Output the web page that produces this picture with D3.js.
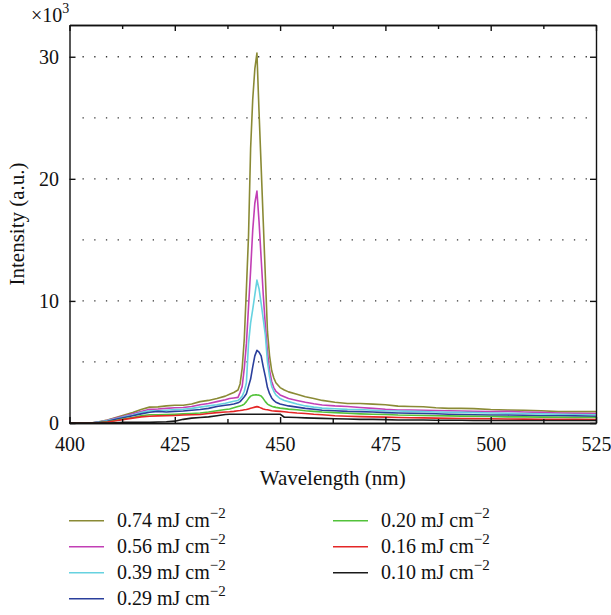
<!DOCTYPE html>
<html><head><meta charset="utf-8">
<script src="https://cdn.jsdelivr.net/npm/d3@7/dist/d3.min.js"></script>
<style>
html,body{margin:0;padding:0;background:#fff;}
text{font-family:"Liberation Serif","DejaVu Serif",serif;fill:#111;}
</style></head>
<body><svg id="c" width="611" height="615"></svg>
<script>
// ---- data (intensity in units of 10^3 a.u.) ----
const wavelength = [400,403,405,407,409,411,413,415,417,419,421,423,425,427,429,431,433,435,437,438,439,
  440,440.5,441,441.5,442,442.5,443,443.5,444,444.5,445,445.5,446,446.5,447,447.5,448,448.5,449,
  450,451,452,454,456,458,460,
  463,466,469,472,475,478,481,484,487,490,493,496,
  500,504,508,512,516,520,525];
const s074 = [0,0,0,0.1,0.25,0.45,0.65,0.85,1.1,1.3,1.32,1.4,1.45,1.45,1.55,1.75,1.85,2.0,2.2,2.35,2.5,
  2.7,3.2,4.5,6.9,11.0,15.3,22.5,26.5,29.0,30.3,25.5,21.0,16.5,12.0,7.5,5.5,4.3,3.7,3.3,
  2.9,2.7,2.55,2.35,2.15,2.0,1.85,
  1.7,1.6,1.6,1.55,1.5,1.38,1.35,1.33,1.25,1.2,1.2,1.18,
  1.1,1.07,1.05,1.0,0.93,0.93,0.93];
const s056 = [0,0,0,0.08,0.22,0.4,0.58,0.75,0.95,1.12,1.15,1.2,1.25,1.27,1.35,1.5,1.6,1.75,1.9,2.0,2.05,
  2.1,2.5,3.0,4.5,6.5,9.5,12.5,15.8,18.0,19.0,16.5,13.5,10.5,8.0,5.8,4.3,3.4,2.9,2.6,
  2.3,2.15,2.0,1.85,1.7,1.58,1.48,
  1.4,1.35,1.27,1.2,1.12,1.07,1.07,1.05,1.02,1.0,0.98,0.95,
  0.93,0.95,0.9,0.87,0.82,0.8,0.78];
const s039 = [0,0,0,0.07,0.2,0.35,0.52,0.65,0.85,1.0,1.0,1.05,1.1,1.12,1.2,1.3,1.4,1.5,1.62,1.7,1.78,
  1.85,2.0,2.2,2.6,3.3,6.5,8.2,9.3,10.5,11.7,11.0,9.8,8.5,7.2,5.0,3.8,3.0,2.6,2.3,
  2.0,1.85,1.75,1.55,1.4,1.3,1.22,
  1.17,1.12,1.1,1.05,1.0,0.98,0.95,0.93,0.9,0.88,0.87,0.85,
  0.82,0.8,0.78,0.75,0.72,0.7,0.68];
const s029 = [0,0,0,0.05,0.15,0.3,0.45,0.6,0.75,0.88,0.95,0.9,0.95,0.98,1.05,1.1,1.2,1.35,1.45,1.5,1.55,
  1.65,1.75,1.95,2.15,2.4,3.0,3.6,4.6,5.5,5.95,5.8,5.5,4.6,3.8,2.9,2.4,2.05,1.85,1.7,
  1.55,1.48,1.4,1.3,1.2,1.12,1.05,
  1.0,0.95,0.93,0.9,0.85,0.82,0.8,0.78,0.76,0.72,0.7,0.68,
  0.66,0.65,0.63,0.6,0.6,0.58,0.55];
const s020 = [0,0,0,0.03,0.1,0.2,0.35,0.45,0.6,0.68,0.68,0.7,0.72,0.75,0.78,0.82,0.9,1.0,1.1,1.15,1.25,
  1.35,1.4,1.45,1.55,1.75,2.0,2.2,2.28,2.3,2.3,2.28,2.22,2.0,1.75,1.55,1.45,1.38,1.32,1.28,
  1.22,1.18,1.14,1.08,1.0,0.95,0.9,
  0.85,0.8,0.75,0.72,0.7,0.65,0.63,0.62,0.6,0.58,0.56,0.55,
  0.53,0.5,0.5,0.48,0.47,0.45,0.45];
const s016 = [0,0,0,0.02,0.08,0.18,0.3,0.4,0.5,0.55,0.58,0.6,0.62,0.65,0.68,0.7,0.78,0.85,0.9,0.92,0.95,
  1.0,1.02,1.05,1.08,1.1,1.15,1.2,1.25,1.3,1.34,1.3,1.22,1.15,1.1,1.08,1.04,1.0,0.98,0.97,
  0.95,0.92,0.88,0.82,0.78,0.72,0.68,
  0.6,0.55,0.52,0.5,0.48,0.45,0.43,0.42,0.4,0.38,0.37,0.36,
  0.35,0.33,0.32,0.3,0.3,0.3,0.28];
const s010 = [0,0,0,0,0,0.02,0.05,0.05,0.05,0.05,0.08,0.1,0.15,0.3,0.4,0.45,0.5,0.6,0.7,0.72,0.72,
  0.72,0.72,0.72,0.72,0.72,0.72,0.72,0.72,0.72,0.72,0.72,0.72,0.72,0.72,0.72,0.72,0.72,0.72,0.72,
  0.72,0.47,0.47,0.45,0.42,0.4,0.38,
  0.35,0.33,0.3,0.3,0.28,0.25,0.25,0.24,0.23,0.22,0.22,0.21,
  0.2,0.2,0.2,0.2,0.2,0.2,0.2];
const seriesLabels = ["0.74","0.56","0.39","0.29","0.20","0.16","0.10"];
const seriesValues = [s074,s056,s039,s029,s020,s016,s010];
const seriesColors = ["#8a8a35","#c23fb5","#66d2e0","#2a3f9c","#52c23a","#e42626","#1a1a1a"];
const xTicks = [400,425,450,475,500,525];
const xMinorTicks = [412.5,437.5,462.5,487.5,512.5];
const yTicks = [0,10,20,30];
const yGrid = [5,10,15,20,25,30];

// ---- layout ----
const svg = d3.select("#c");
const L = 69.5, R = 596, T = 25, B = 423;
const x = d3.scaleLinear().domain([400,525]).range([L,R]);
const y = d3.scaleLinear().domain([0,32.6]).range([B,T]);
const FS = 20, FT = 21;

// grid
svg.append("g").selectAll("line").data(yGrid).join("line")
  .attr("x1",L+13).attr("x2",R).attr("y1",d=>y(d)).attr("y2",d=>y(d))
  .attr("stroke","#333").attr("stroke-width",1.3).attr("stroke-dasharray","1.3,10.4");

// series lines
const line = d3.line().x((d,i)=>x(wavelength[i])).y(d=>y(d));
svg.append("g").selectAll("path").data(seriesValues).join("path")
  .attr("d",d=>line(d)).attr("fill","none")
  .attr("stroke",(d,i)=>seriesColors[i]).attr("stroke-width",1.6).attr("stroke-linejoin","round");

// axes
function style(g){ g.attr("font-family",null);
  g.select(".domain").attr("stroke","#111").attr("stroke-width",1.4);
  g.selectAll(".tick line").attr("stroke","#111").attr("stroke-width",1.4);
  g.selectAll("text").attr("font-size",FS).attr("fill","#111"); }

svg.append("g").attr("transform",`translate(0,${B})`)
  .call(d3.axisBottom(x).tickValues(xTicks).tickFormat(d3.format("d")).tickSizeInner(-6).tickSizeOuter(0).tickPadding(14)).call(style);
svg.append("g").attr("transform",`translate(0,${B})`)
  .call(d3.axisBottom(x).tickValues(xMinorTicks).tickFormat("").tickSizeInner(-4).tickSizeOuter(0)).call(style);
svg.append("g").attr("transform",`translate(0,${T})`)
  .call(d3.axisTop(x).tickValues(xTicks).tickFormat("").tickSizeInner(-6).tickSizeOuter(0)).call(style);
svg.append("g").attr("transform",`translate(0,${T})`)
  .call(d3.axisTop(x).tickValues(xMinorTicks).tickFormat("").tickSizeInner(-4).tickSizeOuter(0)).call(style);
svg.append("g").attr("transform",`translate(${L},0)`)
  .call(d3.axisLeft(y).tickValues(yTicks).tickFormat(d3.format("d")).tickSizeInner(-6).tickSizeOuter(0).tickPadding(10.5)).call(style);
svg.append("g").attr("transform",`translate(${R},0)`)
  .call(d3.axisRight(y).tickValues(yTicks).tickFormat("").tickSizeInner(-6).tickSizeOuter(0)).call(style);

// axis titles
svg.append("text").attr("x",(L+R)/2).attr("y",485).attr("text-anchor","middle")
  .attr("font-size",FT).text("Wavelength (nm)");
svg.append("text").attr("transform",`translate(24,${(T+B)/2}) rotate(-90)`).attr("text-anchor","middle")
  .attr("font-size",FT).text("Intensity (a.u.)");
const mult = svg.append("text").attr("x",31).attr("y",22).attr("font-size",FS);
mult.append("tspan").text("×10");
mult.append("tspan").attr("dy",-9).attr("font-size",14).text("3");

// legend
const rowY = [520.7,546.7,572.7,598.7];
const leg = svg.append("g").selectAll("g").data(seriesLabels).join("g")
  .attr("transform",(d,i)=>{ const col = i<4?0:1; const r = i<4?i:i-4;
    return `translate(${col?333:69},${rowY[r]})`; });
leg.append("line").attr("x1",0).attr("x2",35).attr("y1",0).attr("y2",0)
  .attr("stroke",(d,i)=>seriesColors[i]).attr("stroke-width",1.5);
const lt = leg.append("text").attr("x",48).attr("y",6.5).attr("font-size",FS);
lt.append("tspan").text(d=>d+" mJ cm");
lt.append("tspan").attr("dy",-9).attr("font-size",15).text("−2");
</script></body></html>
